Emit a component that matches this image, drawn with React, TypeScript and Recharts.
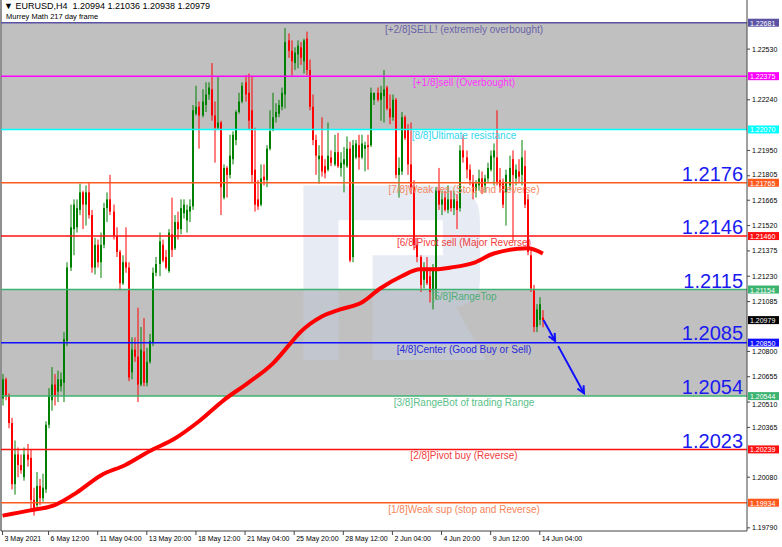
import React from 'react';
import { ComposedChart, Bar, Line, XAxis, YAxis, ReferenceLine, ReferenceArea } from 'recharts';

// EURUSD H4 candles, 3 May - 14 Jun 2021
const openPrices = [
  1.2053, 1.2064, 1.2055, 1.2039, 1.2004, 1.2021, 1.2015, 1.2008, 1.2021, 1.2019,
  1.1995, 1.1992, 1.2003, 1.1996, 1.2001, 1.2038, 1.2052, 1.2061, 1.2057, 1.2060,
  1.2062, 1.2086, 1.2128, 1.2150, 1.2151, 1.2161, 1.2171, 1.2164, 1.2171, 1.2158,
  1.2128, 1.2141, 1.2131, 1.2141, 1.2162, 1.2167, 1.2160, 1.2146, 1.2137, 1.2119,
  1.2131, 1.2128, 1.2068, 1.2081, 1.2077, 1.2061, 1.2080, 1.2062, 1.2074, 1.2085,
  1.2125, 1.2130, 1.2141, 1.2134, 1.2126, 1.2147, 1.2139, 1.2154, 1.2150, 1.2159,
  1.2155, 1.2160, 1.2163, 1.2216, 1.2220, 1.2215, 1.2221, 1.2227, 1.2230, 1.2215,
  1.2208, 1.2211, 1.2168, 1.2185, 1.2181, 1.2190, 1.2201, 1.2217, 1.2223, 1.2234,
  1.2228, 1.2218, 1.2184, 1.2167, 1.2164, 1.2180, 1.2178, 1.2196, 1.2207, 1.2214,
  1.2216, 1.2220, 1.2227, 1.2258, 1.2252, 1.2245, 1.2250, 1.2254, 1.2246, 1.2259,
  1.2241, 1.2220, 1.2201, 1.2190, 1.2192, 1.2186, 1.2184, 1.2191, 1.2187, 1.2194,
  1.2185, 1.2187, 1.2186, 1.2196, 1.2134, 1.2191, 1.2198, 1.2191, 1.2196, 1.2198,
  1.2198, 1.2224, 1.2228, 1.2224, 1.2226, 1.2231, 1.2219, 1.2214, 1.2224, 1.2181,
  1.2183, 1.2214, 1.2207, 1.2187, 1.2174, 1.2141, 1.2134, 1.2121, 1.2126, 1.2123,
  1.2115, 1.2115, 1.2172, 1.2164, 1.2168, 1.2161, 1.2167, 1.2162, 1.2166, 1.2162,
  1.2195, 1.2191, 1.2184, 1.2177, 1.2172, 1.2175, 1.2179, 1.2175, 1.2179, 1.2184,
  1.2191, 1.2191, 1.2178, 1.2177, 1.2171, 1.2175, 1.2190, 1.2179, 1.2183, 1.2181,
  1.2186, 1.2167, 1.2135, 1.2115, 1.2094, 1.2098, 1.20994,
];
const highPrices = [
  1.2067, 1.2065, 1.2056, 1.2042, 1.2029, 1.2025, 1.2021, 1.2025, 1.2027, 1.2024,
  1.2002, 1.2011, 1.2007, 1.2010, 1.2040, 1.2059, 1.2071, 1.2067, 1.2069, 1.2068,
  1.2091, 1.2131, 1.2164, 1.2167, 1.2167, 1.2176, 1.2172, 1.2175, 1.2177, 1.2161,
  1.2145, 1.2144, 1.2148, 1.2165, 1.2171, 1.2181, 1.2164, 1.2151, 1.2138, 1.2135,
  1.2151, 1.2131, 1.2088, 1.2088, 1.2105, 1.2094, 1.2099, 1.2082, 1.2090, 1.2128,
  1.2134, 1.2148, 1.2144, 1.2138, 1.2150, 1.2168, 1.2158, 1.2160, 1.2167, 1.2167,
  1.2164, 1.2167, 1.2221, 1.2232, 1.2223, 1.2230, 1.2234, 1.2234, 1.2245, 1.2223,
  1.2237, 1.2212, 1.2187, 1.2186, 1.2204, 1.2206, 1.2218, 1.2228, 1.2234, 1.2238,
  1.2239, 1.2237, 1.2208, 1.2178, 1.2187, 1.2187, 1.2198, 1.2218, 1.2228, 1.2222,
  1.2224, 1.2231, 1.2265, 1.2262, 1.2258, 1.2254, 1.2258, 1.2257, 1.2259, 1.2263,
  1.2247, 1.2227, 1.2204, 1.2198, 1.2214, 1.2190, 1.2211, 1.2195, 1.2204, 1.2205,
  1.2194, 1.2197, 1.2203, 1.2200, 1.2201, 1.2201, 1.2204, 1.2204, 1.2200, 1.2204,
  1.2231, 1.2228, 1.2231, 1.2232, 1.2241, 1.2232, 1.2227, 1.2227, 1.2225, 1.2191,
  1.2217, 1.2215, 1.2210, 1.2211, 1.2178, 1.2145, 1.2135, 1.2131, 1.2134, 1.2128,
  1.2130, 1.2174, 1.2185, 1.2172, 1.2172, 1.2175, 1.2172, 1.2172, 1.2170, 1.2198,
  1.2204, 1.2195, 1.2187, 1.2181, 1.2178, 1.2184, 1.2183, 1.2181, 1.2188, 1.2195,
  1.2199, 1.2218, 1.2185, 1.2179, 1.2184, 1.2192, 1.2195, 1.2187, 1.2190, 1.2201,
  1.2195, 1.2170, 1.2138, 1.2118, 1.2107, 1.2111, 1.21036,
];
const lowPrices = [
  1.2049, 1.2052, 1.2036, 1.2001, 1.1998, 1.2008, 1.2010, 1.2006, 1.2014, 1.1988,
  1.1986, 1.1991, 1.1992, 1.1994, 1.1999, 1.2036, 1.2046, 1.2049, 1.2051, 1.2057,
  1.2051, 1.2083, 1.2126, 1.2135, 1.2148, 1.2158, 1.2150, 1.2152, 1.2156, 1.2125,
  1.2124, 1.2128, 1.2122, 1.2139, 1.2154, 1.2158, 1.2144, 1.2134, 1.2115, 1.2118,
  1.2125, 1.2063, 1.2064, 1.2074, 1.2051, 1.2060, 1.2060, 1.2060, 1.2073, 1.2083,
  1.2123, 1.2123, 1.2131, 1.2127, 1.2125, 1.2134, 1.2138, 1.2144, 1.2147, 1.2156,
  1.2148, 1.2154, 1.2161, 1.2215, 1.2196, 1.2214, 1.2217, 1.2224, 1.2212, 1.2188,
  1.2207, 1.2158, 1.2167, 1.2168, 1.2179, 1.2187, 1.2198, 1.2216, 1.2222, 1.2223,
  1.2207, 1.2177, 1.2160, 1.2161, 1.2163, 1.2175, 1.2174, 1.2195, 1.2206, 1.2211,
  1.2214, 1.2218, 1.2219, 1.2248, 1.2238, 1.2241, 1.2242, 1.2244, 1.2239, 1.2238,
  1.2218, 1.2198, 1.2181, 1.2176, 1.2180, 1.2179, 1.2183, 1.2186, 1.2186, 1.2185,
  1.2180, 1.2171, 1.2185, 1.2131, 1.2131, 1.2190, 1.2184, 1.2190, 1.2183, 1.2184,
  1.2197, 1.2221, 1.2223, 1.2212, 1.2211, 1.2218, 1.2210, 1.2212, 1.2179, 1.2168,
  1.2181, 1.2201, 1.2181, 1.2170, 1.2138, 1.2131, 1.2114, 1.2116, 1.2118, 1.2108,
  1.2104, 1.2110, 1.2161, 1.2158, 1.2160, 1.2159, 1.2160, 1.2158, 1.2150, 1.2160,
  1.2188, 1.2179, 1.2175, 1.2167, 1.2168, 1.2172, 1.2170, 1.2171, 1.2177, 1.2183,
  1.2175, 1.2175, 1.2171, 1.2162, 1.2152, 1.2172, 1.2143, 1.2175, 1.2177, 1.2175,
  1.2162, 1.2135, 1.2114, 1.2091, 1.2091, 1.2095, 1.20938,
];
const closePrices = [
  1.2064, 1.2055, 1.2039, 1.2004, 1.2021, 1.2015, 1.2012, 1.2021, 1.2018, 1.1995,
  1.1990, 1.2003, 1.1996, 1.2002, 1.2038, 1.2055, 1.2061, 1.2055, 1.2064, 1.2064,
  1.2087, 1.2128, 1.2151, 1.2164, 1.2162, 1.2171, 1.2164, 1.2171, 1.2158, 1.2128,
  1.2141, 1.2131, 1.2141, 1.2162, 1.2167, 1.2160, 1.2146, 1.2137, 1.2119, 1.2131,
  1.2128, 1.2065, 1.2081, 1.2077, 1.2061, 1.2081, 1.2062, 1.2074, 1.2086, 1.2125,
  1.2130, 1.2143, 1.2132, 1.2128, 1.2148, 1.2138, 1.2154, 1.2150, 1.2162, 1.2164,
  1.2161, 1.2163, 1.2218, 1.2220, 1.2215, 1.2223, 1.2227, 1.2231, 1.2215, 1.2208,
  1.2211, 1.2174, 1.2185, 1.2181, 1.2192, 1.2204, 1.2217, 1.2223, 1.2232, 1.2227,
  1.2212, 1.2181, 1.2164, 1.2163, 1.2179, 1.2178, 1.2196, 1.2206, 1.2214, 1.2217,
  1.2221, 1.2228, 1.2257, 1.2252, 1.2246, 1.2251, 1.2255, 1.2248, 1.2258, 1.2241,
  1.2220, 1.2201, 1.2192, 1.2192, 1.2183, 1.2182, 1.2192, 1.2188, 1.2194, 1.2186,
  1.2188, 1.2190, 1.2196, 1.2132, 1.2198, 1.2199, 1.2191, 1.2199, 1.2198, 1.2197,
  1.2228, 1.2228, 1.2224, 1.2228, 1.2230, 1.2219, 1.2214, 1.2224, 1.2181, 1.2185,
  1.2214, 1.2202, 1.2187, 1.2174, 1.2141, 1.2134, 1.2118, 1.2126, 1.2119, 1.2114,
  1.2127, 1.2172, 1.2164, 1.2167, 1.2161, 1.2167, 1.2162, 1.2167, 1.2161, 1.2195,
  1.2191, 1.2184, 1.2178, 1.2171, 1.2176, 1.2179, 1.2174, 1.2179, 1.2185, 1.2192,
  1.2195, 1.2177, 1.2174, 1.2164, 1.2181, 1.2185, 1.2181, 1.2184, 1.2180, 1.2191,
  1.2164, 1.2137, 1.2116, 1.2094, 1.2104, 1.2107, 1.20979,
];

// red 217 moving average, read at a few bars
const maBars = [0, 9, 17, 24, 32, 40, 48, 56, 64, 72, 80, 88, 94, 97, 104, 110, 117, 123, 130, 136, 141, 146, 154, 160, 171, 176];
const maValues = [1.1986, 1.1989, 1.1992, 1.1999, 1.2009, 1.2015, 1.2023, 1.2030, 1.2040, 1.2052, 1.2062, 1.2073, 1.2085, 1.2091, 1.2100, 1.2104, 1.2108, 1.2116, 1.2123, 1.2127, 1.2127, 1.2128, 1.2131, 1.2136, 1.2139, 1.2136];

const xTickBars = [0, 15, 31, 47, 63, 79, 95, 111, 127, 143, 159, 175];
const xTickLabels = ['3 May 2021', '6 May 12:00', '11 May 04:00', '13 May 20:00', '18 May 12:00', '21 May 04:00', '25 May 20:00', '28 May 12:00', '2 Jun 04:00', '4 Jun 20:00', '9 Jun 12:00', '14 Jun 04:00'];

const yTicks = [1.2253, 1.2224, 1.2195, 1.21805, 1.21665, 1.2152, 1.21375, 1.2123, 1.21085, 1.208, 1.20655, 1.2051, 1.20365, 1.2008, 1.1979];

// Murrey Math levels
const levelPrices = [1.22681, 1.22375, 1.2207, 1.21765, 1.2146, 1.21154, 1.2085, 1.20544, 1.20239, 1.19934];
const levelNames = [
  '[+2/8]SELL! (extremely overbought)',
  '[+1/8]sell (Overbought)',
  '[8/8]Ultimate resistance',
  '[7/8]Weak res (Stop and Reverse)',
  '[6/8]Pivot sell (Major Reverse)',
  '[5/8]RangeTop',
  '[4/8]Center (Good Buy or Sell)',
  '[3/8]RangeBot of trading Range',
  '[2/8]Pivot buy (Reverse)',
  '[1/8]Weak sup (stop and Reverse)',
];
const levelColors = ['#5b52a3', '#ff00ff', '#00ffff', '#ff5a1e', '#ff1010', '#3cb371', '#1010ff', '#3cb371', '#ff1010', '#ff5a1e'];
const textColors = ['#6a64a8', '#ff33ff', '#33d6f0', '#f58a62', '#f04040', '#4dae78', '#2a2ad8', '#5cc08a', '#f04040', '#f5845a'];

const bigNumbers = [1.2176, 1.2146, 1.2115, 1.2085, 1.2054, 1.2023];
const lastPrice = 1.20979;

const arrowStarts = [{ x: 176.2, y: 1.2098 }, { x: 181, y: 1.2083 }];
const arrowEnds = [{ x: 180, y: 1.2086 }, { x: 189.4, y: 1.2056 }];

const Y_MIN = 1.19772;
const Y_MAX = 1.22811;
const PLOT_H = 531;

const data = openPrices.map((open, i) => ({
  i,
  open,
  high: highPrices[i],
  low: lowPrices[i],
  close: closePrices[i],
  range: [lowPrices[i], highPrices[i]],
  ma: maBars.indexOf(i) >= 0 ? maValues[maBars.indexOf(i)] : null,
}));

const FONT = '"Liberation Sans", Arial, sans-serif';

const Candle = (props: any) => {
  const { x, y, width, height, payload } = props;
  if (x == null || !payload) return null;
  const { open, close, high, low } = payload;
  const top = Math.min(y, y + height);
  const h = Math.abs(height);
  const k = high === low ? 0 : h / (high - low);
  const yo = top + (high - open) * k;
  const yc = top + (high - close) * k;
  const color = close >= open ? '#008000' : '#ff0000';
  const cx = Math.round(x + width / 2);
  return (
    <g>
      <line x1={cx} x2={cx} y1={top} y2={top + h} stroke={color} strokeWidth={1} />
      <rect x={cx - 1} y={Math.min(yo, yc)} width={2} height={Math.max(1, Math.abs(yo - yc))} fill={color} />
    </g>
  );
};

const LevelLabel = ({ viewBox, text, color, tcolor, price }: any) => {
  if (!viewBox) return null;
  const { x, y, width } = viewBox;
  return (
    <g>
      <text x={x + 463} y={y + 10} textAnchor="middle" fontSize={10} fill={tcolor} fontFamily={FONT}>{text}</text>
      <rect x={x + width + 1} y={y - 4} width={31} height={8} fill={color} />
      <text x={x + width + 3} y={y + 3} fontSize={7} fill="#fff" fontFamily={FONT}>{price.toFixed(5)}</text>
    </g>
  );
};

const BigNumber = ({ viewBox, value }: any) => {
  if (!viewBox) return null;
  const { x, y, width } = viewBox;
  return (
    <text x={x + width - 4} y={y - 2.5} textAnchor="end" fontSize={20} fill="#1a1af0" fontFamily={FONT}>{value.toFixed(4)}</text>
  );
};

const PriceBox = ({ viewBox }: any) => {
  if (!viewBox) return null;
  const { x, y, width } = viewBox;
  return (
    <g>
      <rect x={x + width + 1} y={y - 4} width={31} height={8} fill="#000" />
      <text x={x + width + 3} y={y + 3} fontSize={7} fill="#fff" fontFamily={FONT}>{lastPrice.toFixed(5)}</text>
    </g>
  );
};

const Arrow = (props: any) => {
  const { x1, y1, x2, y2 } = props;
  if (x1 == null) return null;
  const a = Math.atan2(y2 - y1, x2 - x1);
  const L = 8;
  const w = 0.45;
  const p1 = `${x2 - L * Math.cos(a - w)},${y2 - L * Math.sin(a - w)}`;
  const p2 = `${x2 - L * Math.cos(a + w)},${y2 - L * Math.sin(a + w)}`;
  return (
    <g>
      <line x1={x1} y1={y1} x2={x2} y2={y2} stroke="#1010ff" strokeWidth={2} />
      <polyline points={`${p1} ${x2},${y2} ${p2}`} fill="none" stroke="#1010ff" strokeWidth={2} />
    </g>
  );
};

const Watermark = (props: any) => {
  const { x, y, width, height } = props;
  if (x == null) return null;
  const sx = width / 176;
  const sy = height / 175;
  return (
    <g transform={`translate(${x},${y}) scale(${sx},${sy})`}>
      <path
        d="M0 0 H141 Q176 0 176 35 V95 Q176 118 152 122 L182 175 H0 Z M35 35 V175 H69 V70 H139 V35 Z"
        fill="#c3cfe4"
        fillOpacity={0.42}
        fillRule="evenodd"
      />
    </g>
  );
};

const XTick = ({ x, y, payload }: any) => {
  const k = xTickBars.indexOf(payload.value);
  return (
    <text x={x + 2} y={y + 4} fontSize={7} fill="#000" fontFamily={FONT}>{xTickLabels[k]}</text>
  );
};

// price tick; nudged off a coloured level box when they would collide
const YTick = ({ x, y, payload }: any) => {
  const pxPerPrice = PLOT_H / (Y_MAX - Y_MIN);
  let dy = 0;
  [...levelPrices, lastPrice].forEach((b) => {
    const d = (payload.value - b) * pxPerPrice;
    if (Math.abs(d) < 8.5) dy = d - Math.sign(d) * 8.5;
  });
  return (
    <text x={x} y={y + dy} dy="0.35em" fontSize={7} fill="#000" fontFamily={FONT}>{payload.value.toFixed(5)}</text>
  );
};

export default function App() {
  return (
    <div style={{ position: 'fixed', left: 0, top: 0, width: 782, height: 547, background: '#fff' }}>
      <ComposedChart width={782} height={547} data={data} margin={{ top: 0, right: 0, left: 1, bottom: 0 }}>
        <XAxis
          dataKey="i"
          type="number"
          domain={[-0.5, 242.5]}
          allowDataOverflow
          ticks={xTickBars}
          interval={0}
          tick={<XTick />}
          tickSize={4}
          height={16}
          stroke="#444"
        />
        <YAxis
          orientation="right"
          type="number"
          domain={[Y_MIN, Y_MAX]}
          allowDataOverflow
          ticks={yTicks}
          interval={0}
          tick={<YTick />}
          tickSize={3}
          tickMargin={2}
          width={35}
          stroke="#444"
        />
        <ReferenceArea y1={levelPrices[2]} y2={levelPrices[0]} fill="#c0c0c0" fillOpacity={1} stroke="none" />
        <ReferenceArea y1={levelPrices[7]} y2={levelPrices[5]} fill="#c0c0c0" fillOpacity={1} stroke="none" />
        <ReferenceArea x1={98} x2={155.5} y1={1.2075} y2={1.2175} shape={<Watermark />} />
        <ReferenceLine x={-0.5} stroke="#909090" strokeWidth={2} />
        {levelPrices.map((p, k) => (
          <ReferenceLine
            key={'lv' + p}
            y={p}
            stroke={levelColors[k]}
            strokeWidth={1.5}
            label={(lp: any) => <LevelLabel {...lp} text={levelNames[k]} color={levelColors[k]} tcolor={textColors[k]} price={p} />}
          />
        ))}
        {bigNumbers.map((v) => (
          <ReferenceLine key={'bn' + v} y={v} stroke="none" label={(lp: any) => <BigNumber {...lp} value={v} />} />
        ))}
        <ReferenceLine y={lastPrice} stroke="none" label={(lp: any) => <PriceBox {...lp} />} />
        <Bar dataKey="range" barSize={2} shape={<Candle />} isAnimationActive={false} />
        <Line dataKey="ma" type="monotone" stroke="#ff0000" strokeWidth={4} dot={false} connectNulls isAnimationActive={false} />
        {arrowStarts.map((s, k) => (
          <ReferenceLine key={'ar' + k} segment={[s, arrowEnds[k]]} ifOverflow="visible" shape={(sp: any) => <Arrow {...sp} />} />
        ))}
      </ComposedChart>
      <div style={{ position: 'absolute', left: 4, top: 1, fontFamily: FONT, color: '#000', whiteSpace: 'pre' }}>
        <div style={{ fontSize: 9, lineHeight: '11px' }}>{'\u25BC EURUSD,H4  1.20994 1.21036 1.20938 1.20979'}</div>
        <div style={{ fontSize: 7.5, lineHeight: '10px', paddingLeft: 2 }}>Murrey Math 217 day frame</div>
      </div>
    </div>
  );
}
